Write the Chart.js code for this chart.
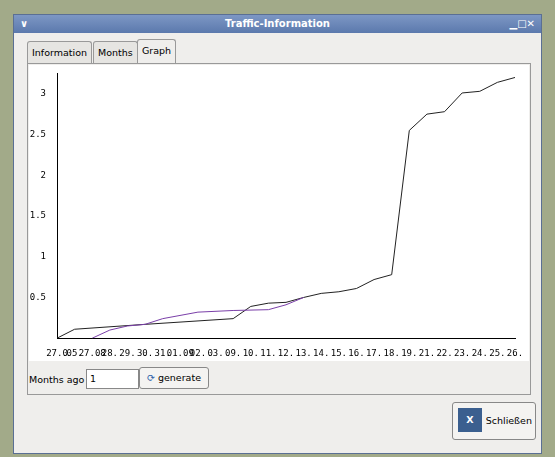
<!DOCTYPE html><html><head><meta charset="utf-8">
<script src="https://cdn.jsdelivr.net/npm/chart.js@4"></script>
<style>
body{margin:0;width:555px;height:457px;background:#a2aa89;font-family:"DejaVu Sans",sans-serif;position:relative;overflow:hidden}
.win{position:absolute;left:13px;top:14px;width:527px;height:438px;background:#efeeec;border:1px solid #5a6f94}
.title{height:18px;background:linear-gradient(#7d97c4,#5b79ad);color:#fff;font-weight:bold;font-size:10px;text-align:center;line-height:18px;position:relative}
.tab{position:absolute;top:26px;height:22px;border:1px solid #999;border-bottom:none;background:#e6e5e2;font-size:9.5px;line-height:22px;padding:0 4px;border-radius:3px 3px 0 0}
.panel{position:absolute;left:13px;top:48px;width:502px;height:330px;border:1px solid #999;background:#efeeec}
.plot{position:absolute;left:1px;top:1px;width:500px;height:296px;background:#fff}
.btn{position:absolute;border:1px solid #888;border-radius:3px;background:#f4f3f1;font-size:9.5px}
</style></head><body>
<div class="win">
<div class="title"><span style="position:absolute;left:6px">&#8744;</span>Traffic-Information<span style="position:absolute;right:6px">▁□✕</span></div>
<div class="tab" style="left:13px">Information</div>
<div class="tab" style="left:79px">Months</div>
<div class="tab" style="left:123px;background:#efeeec;top:24px;height:25px">Graph</div>
<div class="panel"><div class="plot"><canvas id="c" width="500" height="296"></canvas></div>
<div style="position:absolute;left:1px;top:310px;font-size:9.5px">Months ago</div>
<div class="btn" style="left:58px;top:305px;width:48px;height:18px;background:#fff;border-radius:0;line-height:18px;padding-left:3px">1</div>
<div class="btn" style="left:111px;top:303px;width:68px;height:20px;line-height:20px;text-align:center"><span style="color:#2a5ea8">&#10227;</span> generate</div>
</div>
<div class="btn" style="left:438px;top:387px;width:82px;height:36px;line-height:36px;text-align:right"><span style="position:absolute;left:5px;top:5px;width:24px;height:24px;background:#3b5f8f;color:#fff;line-height:24px;text-align:center;font-weight:bold">X</span>Schließen&nbsp;</div>
</div>
<script>
const labels=["27.0","05.","27.08","28.","29.","30.","31.","01.09","02.","03.","09.","10.","11.","12.","13.","14.","15.","16.","17.","18.","19.","21.","22.","23.","24.","25.","26."];
const blackSeries=[0,0.11,null,null,null,0.17,null,null,null,null,0.24,0.39,0.43,0.44,0.5,0.55,0.57,0.61,0.72,0.78,2.55,2.75,2.78,3.01,3.03,3.14,3.2];
const purpleSeries=[null,null,0,0.1,0.15,0.17,0.24,null,0.32,null,0.34,null,0.35,0.41,0.5,null,null,null,null,null,null,null,null,null,null,null,null];
new Chart(document.getElementById('c'),{type:'line',data:{labels,datasets:[
{data:purpleSeries,borderColor:'#7a3fa8',borderWidth:1,pointRadius:0,spanGaps:true,tension:0},
{data:blackSeries,borderColor:'#222',borderWidth:1,pointRadius:0,spanGaps:true,tension:0}]},
options:{responsive:false,animation:false,layout:{padding:{left:0,right:14,top:5}},
plugins:{legend:{display:false},tooltip:{enabled:false}},
scales:{x:{offset:false,grid:{display:false,drawTicks:true},border:{color:'#000'},ticks:{autoSkip:false,maxRotation:0,color:'#000',font:{family:'DejaVu Sans Mono',size:9},padding:2}},
y:{min:0,max:3.25,afterFit(s){s.width=28},grid:{display:false},border:{color:'#000'},ticks:{stepSize:0.5,color:'#000',font:{family:'DejaVu Sans Mono',size:9},callback:v=>(v===0||v>3.1)?'':v}}}}});
</script></body></html>
